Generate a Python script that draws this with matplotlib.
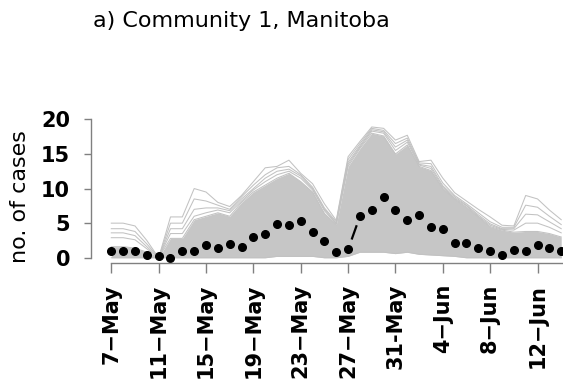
import numpy as np
import matplotlib
matplotlib.use('Agg')
import matplotlib.pyplot as plt

plt.rcParams['font.family'] = ['DejaVu Sans']
plt.rcParams['lines.scale_dashes'] = False

# days since 7 May (one point per day)
days = np.arange(39)

# observed (black dots)
obs = [1, 1, 1, 0.4, 0.2, 0, 1, 1, 1.9, 1.4, 2.0, 1.5, 3.0, 3.4, 4.9, 4.7, 5.35, 3.75, 2.4,
       0.9, 1.2, 6.0, 6.9, 8.8, 6.9, 5.45, 6.15, 4.5, 4.2, 2.2, 2.1, 1.45, 1.0, 0.45, 1.05,
       1.0, 1.9, 1.45, 1.0]

# simulated trajectories, read off as an envelope + a few outer runs
sim_max = [5, 5, 4.6, 2.5, 0, 5.9, 5.9, 10, 9.5, 8, 7.4, 9, 11, 13, 13.2, 14.1, 12.2, 10.7, 7.8,
           5.4, 14.6, 16.8, 18.9, 18.7, 17, 17.7, 13.9, 14.1, 11.5, 9.4, 8.2, 7.0, 5.9, 4.7, 4.6,
           9.0, 8.5, 6.9, 5.5]
sim_2 = [4.2, 4.2, 3.8, 2.0, 0, 5, 5, 8.5, 8.2, 7.6, 7, 8.8, 10.5, 12, 13, 13.2, 12, 10.2, 7.2,
         5.2, 14.2, 16.5, 18.7, 18.4, 16.5, 17.3, 13.7, 13.6, 10.8, 9, 7.8, 6.5, 5.2, 4.4, 4.4,
         7.6, 7.3, 6.0, 4.8]
sim_3 = [3.6, 3.6, 3.2, 1.6, 0, 4.2, 4.2, 7, 7.2, 7.2, 6.8, 8.5, 10, 11.5, 12.5, 12.8, 11.8, 10,
         7, 5, 13.8, 16.2, 18.5, 18.2, 16, 17, 13.5, 13.2, 10.4, 8.8, 7.6, 6.2, 4.9, 4.2, 4.2,
         6.3, 6.2, 5.2, 4.2]
sim_4 = [2.9, 2.9, 2.6, 1.3, 0, 3.5, 3.5, 6, 6.5, 6.9, 6.5, 8.2, 9.8, 11, 12, 12.5, 11.5, 9.8,
         6.8, 4.9, 13.5, 16, 18.3, 18, 15.5, 16.7, 13.4, 12.9, 10.2, 8.6, 7.5, 6, 4.7, 4.1, 4,
         5, 5, 4.4, 3.6]
sim_hi = [1.6, 1.6, 1.4, 0.8, 0, 2.8, 2.8, 5.5, 6, 6.5, 6, 8, 9.5, 10.5, 11.5, 12.2, 11, 9.5,
          6.4, 4.8, 13.2, 15.8, 18, 17.6, 15, 16.3, 13.2, 12.6, 10, 8.5, 7.3, 5.9, 4.5, 4, 3.7,
          3.8, 3.8, 3.5, 3]
sim_lo = [0, 0, 0, 0, 0, 0, 0, 0, 0, 0, 0, 0, 0, 0, 0.2, 0.2, 0.2, 0.2, 0, 0, 0.2, 0.8, 0.8,
          0.8, 0.6, 0.8, 0.5, 0.4, 0.3, 0.2, 0, 0, 0, 0, 0, 0, 0, 0, 0]

tick_days = [0, 4, 8, 12, 16, 20, 24, 28, 32, 36]
tick_labels = ['7\u2212May', '11\u2212May', '15\u2212May', '19\u2212May', '23\u2212May',
               '27\u2212May', '31-May', '4\u2212Jun', '8\u2212Jun', '12\u2212Jun']

grey = '#c2c2c2'
axcol = '#808080'

fig = plt.figure(figsize=(5.63, 3.85), dpi=100)
ax = fig.add_axes([0.1611, 0.3161, 0.9556, 0.3883])

ax.fill_between(days, sim_lo, sim_hi, color='#c6c6c6', lw=0)
for s in (sim_max, sim_2, sim_3, sim_4, sim_hi, sim_lo):
    ax.plot(days, s, color=grey, lw=0.75)

ax.plot(days, obs, 'o', color='black', ms=5.5, mec='black')
# the one visible dash of the observed line
ax.plot(days[20:22], obs[20:22], color='black', lw=1.6,
        ls=(75.3, (10.9, 72)), solid_capstyle='butt', dash_capstyle='butt')

ax.set_xlim(-1.74, 43.7)
ax.set_ylim(-0.8, 20.8)
for sp in ('top', 'right'):
    ax.spines[sp].set_visible(False)
ax.spines['left'].set_bounds(0, 20)
ax.spines['bottom'].set_bounds(0, 40)
for sp in ('left', 'bottom'):
    ax.spines[sp].set_color(axcol)
    ax.spines[sp].set_linewidth(1.0)

ax.set_yticks([0, 5, 10, 15, 20])
ax.set_yticklabels(['0', '5', '10', '15', '20'], fontsize=15, fontweight='bold')
ax.set_xticks(tick_days)
ax.set_xticklabels(tick_labels, rotation=90, fontsize=15, fontweight='bold')
ax.tick_params(axis='y', length=5.3, width=1.0, color=axcol, pad=9.6)
ax.tick_params(axis='x', length=7.2, width=1.0, color=axcol, pad=7.7)

fig.text(20 / 563, 1 - 196.5 / 385, 'no. of cases', rotation=90, fontsize=16,
         ha='center', va='center')
fig.text(92.7 / 563, 1 - 27 / 385, 'a) Community 1, Manitoba', fontsize=16,
         ha='left', va='baseline')

fig.savefig('out.png', dpi=100)
